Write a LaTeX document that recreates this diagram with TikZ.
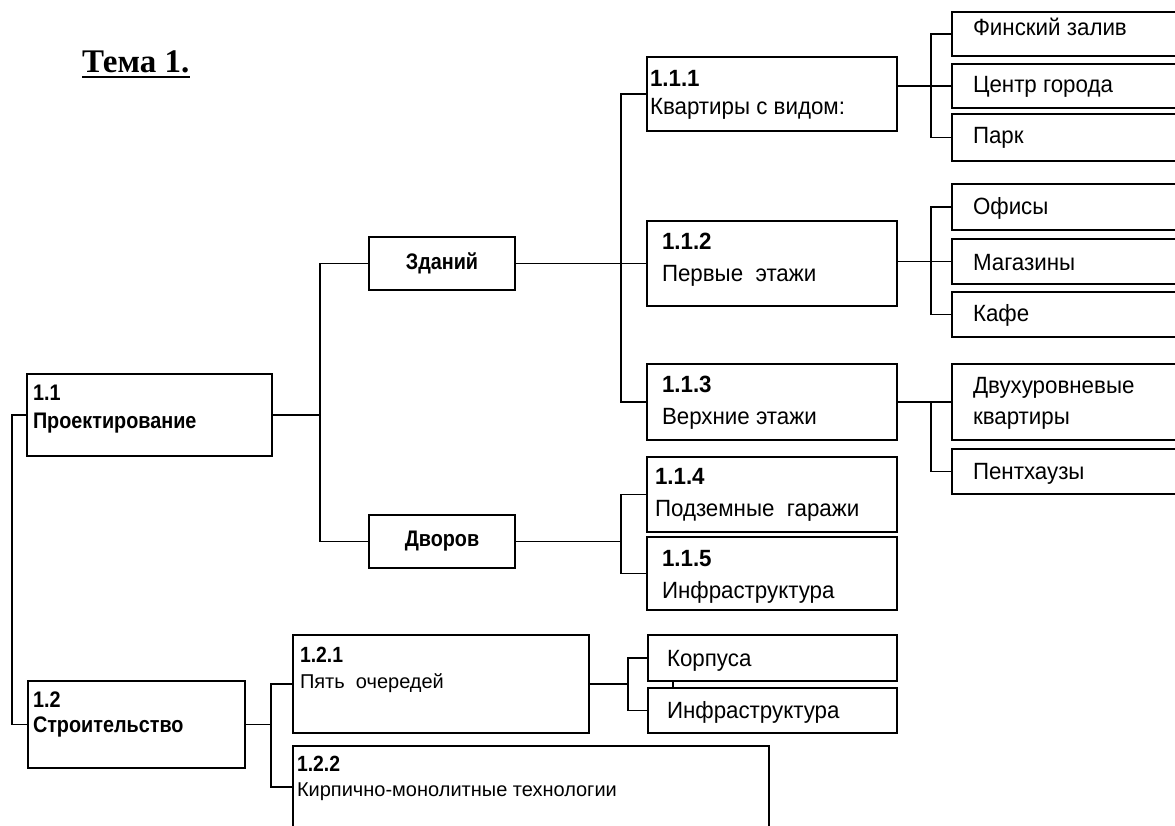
\documentclass[tikz,border=0pt]{standalone}
\usepackage{fontspec}
\setmainfont{Liberation Sans}
\newfontfamily\fa{Liberation Sans}[FakeStretch=0.95]
\newfontfamily\fc{Liberation Sans}[FakeStretch=0.88]
\newfontfamily\titlefont{Liberation Serif}
\begin{document}
\begin{tikzpicture}[x=1pt,y=-1pt,
  box/.style={draw, line width=1.8pt, rectangle, anchor=north west, inner sep=0pt, outer sep=0pt},
  conn/.style={line width=1.5pt},
  lbl/.style={anchor=base west, inner sep=0pt, outer sep=0pt, font=\fa\fontsize{23.5}{28}\selectfont},
  blbl/.style={anchor=base west, inner sep=0pt, outer sep=0pt, font=\fa\fontsize{23.5}{28}\selectfont\bfseries},
  slbl/.style={anchor=base west, inner sep=0pt, outer sep=0pt, font=\fontsize{20}{24}\selectfont},
  snum/.style={anchor=base west, inner sep=0pt, outer sep=0pt, font=\fc\fontsize{22}{25}\selectfont\bfseries},
  sblbl/.style={anchor=base west, inner sep=0pt, outer sep=0pt, font=\fc\fontsize{22.5}{26}\selectfont\bfseries},
  clbl/.style={inner sep=0pt, font=\fc\fontsize{22.5}{26}\selectfont\bfseries}]
\path[use as bounding box] (0,0) rectangle (1175,825);
\clip (0,0) rectangle (1175,825);

% title
\node[anchor=base west, inner sep=0pt, font=\titlefont\fontsize{33}{36}\selectfont\bfseries] (title) at (82,72) {Тема 1.};
\draw[line width=2.5pt] ([yshift=-5pt]title.base west) -- ([yshift=-5pt]title.base east);

% boxes
\node[box, minimum width=245pt, minimum height=82pt] (n11) at (27,374) {};
\node[box, minimum width=217pt, minimum height=87pt] (n12) at (28,681) {};
\node[box, minimum width=146pt, minimum height=53pt] (zd) at (369,237) {};
\node[box, minimum width=146pt, minimum height=53pt] (dv) at (369,515) {};
\node[box, minimum width=250pt, minimum height=74pt] (n111) at (647,57) {};
\node[box, minimum width=250pt, minimum height=85pt] (n112) at (647,221) {};
\node[box, minimum width=250pt, minimum height=76pt] (n113) at (647,364) {};
\node[box, minimum width=250pt, minimum height=75pt] (n114) at (647,457) {};
\node[box, minimum width=250pt, minimum height=73pt] (n115) at (647,537) {};
\node[box, minimum width=240pt, minimum height=44pt] (fz) at (952,12) {};
\node[box, minimum width=240pt, minimum height=44pt] (cg) at (952,64) {};
\node[box, minimum width=240pt, minimum height=47pt] (pk) at (952,114) {};
\node[box, minimum width=240pt, minimum height=46pt] (of) at (952,184) {};
\node[box, minimum width=240pt, minimum height=45pt] (mg) at (952,239) {};
\node[box, minimum width=240pt, minimum height=45pt] (kf) at (952,292) {};
\node[box, minimum width=240pt, minimum height=76pt] (dq) at (952,364) {};
\node[box, minimum width=240pt, minimum height=45pt] (ph) at (952,449) {};
\node[box, minimum width=296pt, minimum height=98pt] (n121) at (293,635) {};
\node[box, minimum width=249pt, minimum height=46pt] (kp) at (648,635) {};
\node[box, minimum width=249pt, minimum height=45pt] (inf2) at (648,688) {};
\node[box, minimum width=476pt, minimum height=82pt] (n122) at (293,746) {};

% junction columns
\coordinate (j1) at (12,0);
\coordinate (j2) at (320,0);
\coordinate (j3) at (621,0);
\coordinate (j4) at (931,0);
\coordinate (j5) at (271,0);
\coordinate (j6) at (628,0);
\coordinate (tk) at (673,0);

% connectors
\draw[conn] (n11.west) -- (n11.west -| j1) |- (n12.west);
\draw[conn] (zd.west) -- (zd.west -| j2) |- (dv.west);
\draw[conn] (n11.east) -- (n11.east -| j2);
\draw[conn] (n111.west) -- (n111.west -| j3) |- (n113.west);
\draw[conn] (zd.east) -- (n112.west);
\draw[conn] (n114.west) -- (n114.west -| j3) |- (n115.west);
\draw[conn] (dv.east) -- (dv.east -| j3);
\draw[conn] (fz.west) -- (fz.west -| j4) |- (pk.west);
\draw[conn] (n111.east |- cg.west) -- (cg.west);
\draw[conn] (of.west) -- (of.west -| j4) |- (kf.west);
\draw[conn] (n112.east |- mg.west) -- (mg.west);
\draw[conn] (n113.east) -- (dq.west);
\draw[conn] (dq.west -| j4) |- (ph.west);
\draw[conn] (n12.east) -- (n12.east -| j5);
\draw[conn] (n121.west) -- (n121.west -| j5) |- (n122.west);
\draw[conn] (n121.east) -- (n121.east -| j6);
\draw[conn] (kp.west) -- (kp.west -| j6) |- (inf2.west);
\draw[conn] (kp.south -| tk) -- (inf2.north -| tk);

% texts
\node[sblbl] (t11a) at (33,400) {1.1};
\node[sblbl] (t11b) at (33,428) {Проектирование};
\node[sblbl] (t12a) at (33,707) {1.2};
\node[sblbl] (t12b) at (33,732) {Строительство};
\node[clbl] (tzd) at (zd.center) {Зданий};
\node[clbl] (tdv) at (dv.center) {Дворов};
\node[blbl] (t111a) at (650,86) {1.1.1};
\node[lbl] (t111b) at (650,114) {Квартиры с видом:};
\node[blbl] (t112a) at (662,249) {1.1.2};
\node[lbl] (t112b) at (662,281) {Первые\ \ этажи};
\node[blbl] (t113a) at (662,392) {1.1.3};
\node[lbl] (t113b) at (662,424) {Верхние этажи};
\node[blbl] (t114a) at (655,484) {1.1.4};
\node[lbl] (t114b) at (655,516) {Подземные\ \ гаражи};
\node[blbl] (t115a) at (662,566) {1.1.5};
\node[lbl] (t115b) at (662,598) {Инфраструктура};
\node[lbl] (tfz) at (973,35) {Финский залив};
\node[lbl] (tcg) at (973,92) {Центр города};
\node[lbl] (tpk) at (973,143) {Парк};
\node[lbl] (tof) at (973,214) {Офисы};
\node[lbl] (tmg) at (973,270) {Магазины};
\node[lbl] (tkf) at (973,321) {Кафе};
\node[lbl] (tdqa) at (973,393) {Двухуровневые};
\node[lbl] (tdqb) at (973,424) {квартиры};
\node[lbl] (tph) at (973,479) {Пентхаузы};
\node[snum] (t121a) at (300,662) {1.2.1};
\node[slbl] (t121b) at (300,688) {Пять\ \ очередей};
\node[lbl] (tkp) at (667,666) {Корпуса};
\node[lbl] (tinf2) at (667,718) {Инфраструктура};
\node[snum] (t122a) at (297,771) {1.2.2};
\node[slbl] (t122b) at (297,796) {Кирпично-монолитные технологии};
\end{tikzpicture}
\end{document}
